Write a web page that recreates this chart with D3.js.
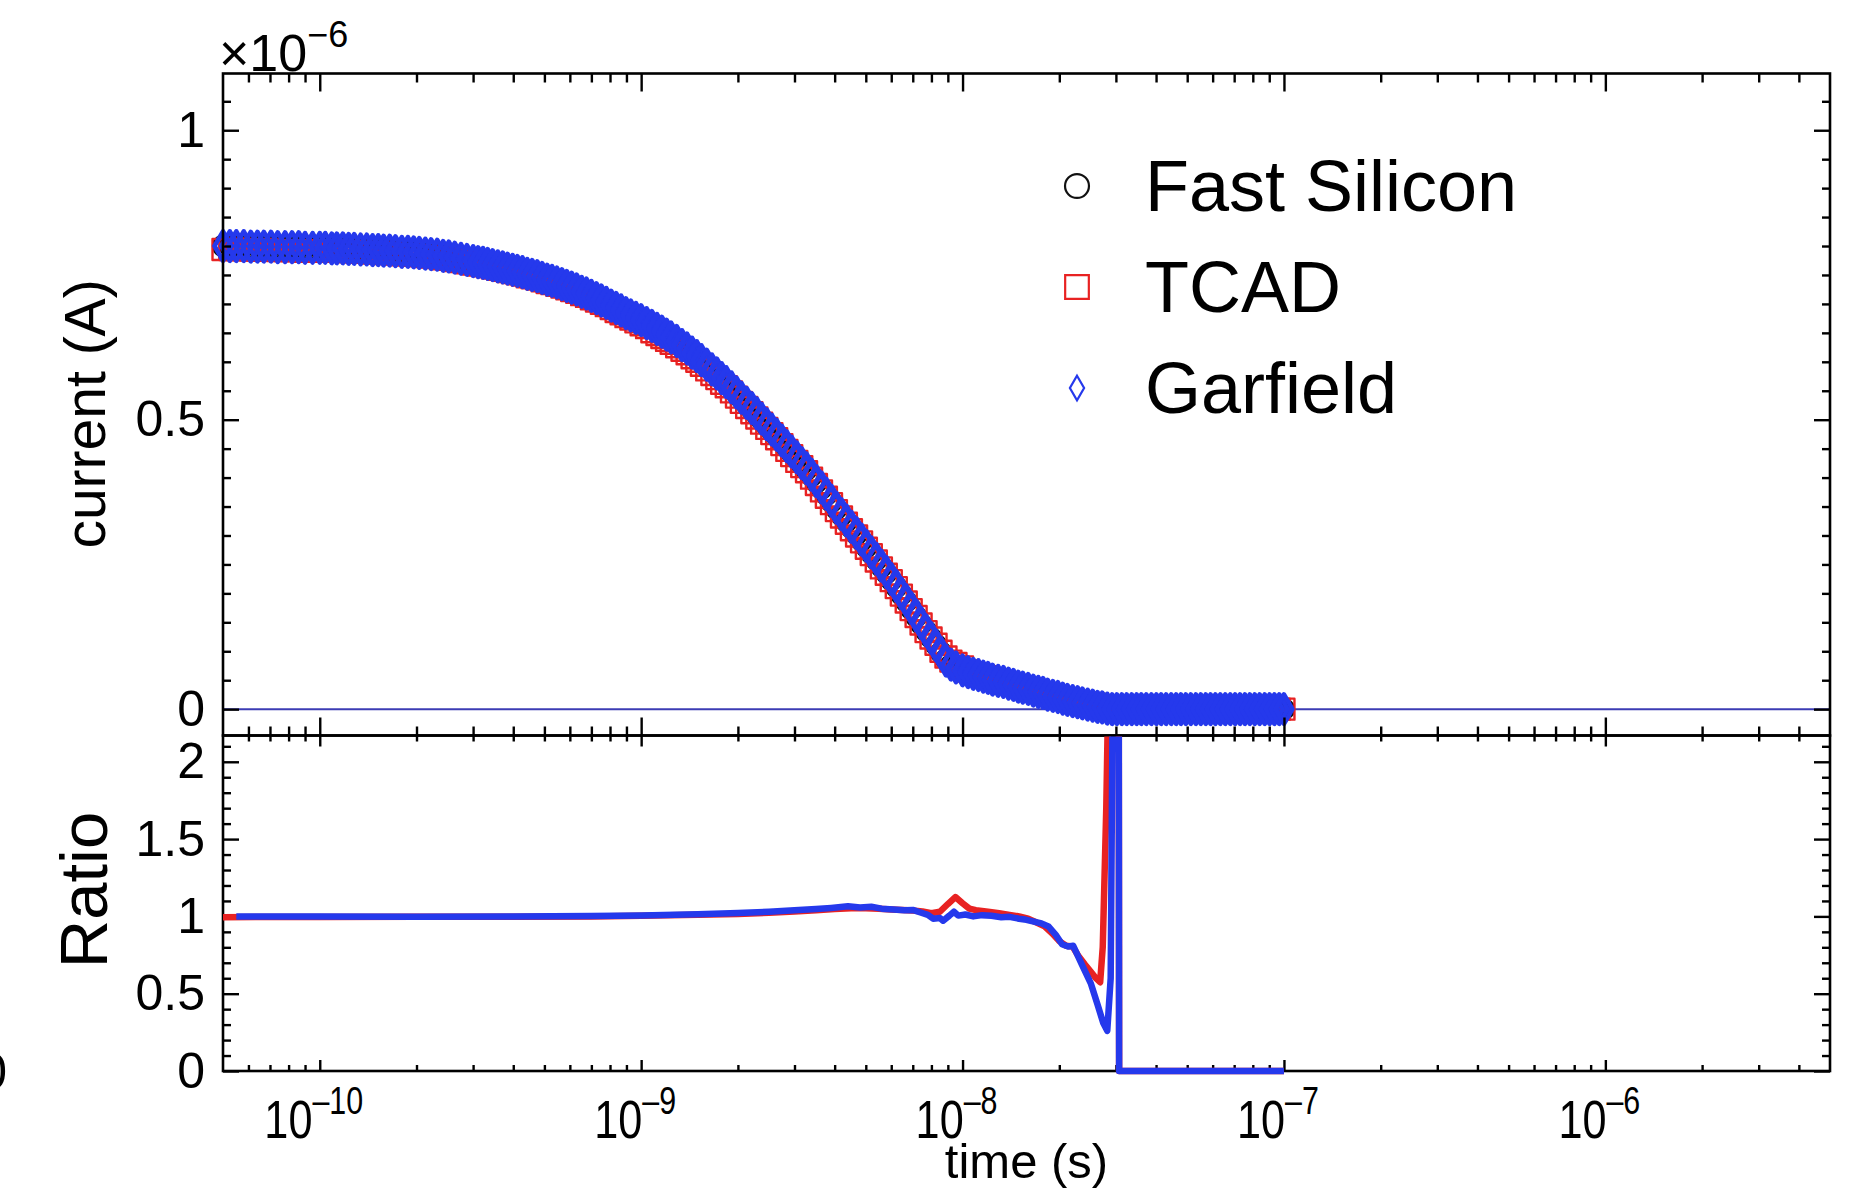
<!DOCTYPE html>
<html>
<head>
<meta charset="utf-8">
<script src="https://cdn.jsdelivr.net/npm/d3@7"></script>
<style>
  html, body { margin: 0; padding: 0; background: #fff; }
  svg { display: block; }
</style>
</head>
<body>
<svg id="chart" width="1860" height="1188"></svg>
<script>
// ---- data -------------------------------------------------------------
// sampling times of the current curves, in ns
const timeNs = [
  0.05,0.0525,0.055,0.058,0.061,0.064,0.067,0.0705,0.074,0.078,0.082,0.086,0.09,0.095,
  0.1,0.104,0.109,0.113,0.118,0.123,0.128,0.134,0.14,0.146,0.152,0.158,0.165,0.172,0.18,0.188,0.196,0.204,0.213,0.222,0.232,0.242,0.252,0.263,0.275,0.287,
  0.3,0.311,0.322,0.333,0.345,0.358,0.371,0.384,0.398,0.412,0.427,0.442,0.458,0.475,0.492,0.51,0.528,0.547,0.567,0.587,0.608,0.63,0.653,0.676,0.7,0.726,0.752,0.779,0.807,0.836,0.866,0.897,0.929,0.963,
  1,1.04,1.08,1.12,1.16,1.2,1.24,1.29,1.34,1.39,1.44,1.49,1.54,1.6,1.66,1.72,1.78,1.84,1.91,1.98,2.05,2.13,2.21,2.29,2.37,2.46,2.55,2.64,2.74,2.84,2.94,3.05,3.16,3.27,3.39,3.51,3.64,3.77,3.91,4.05,4.2,4.35,4.51,4.68,4.85,5.02,5.2,5.39,5.59,5.79,6,6.22,6.45,6.68,6.92,7.17,7.43,7.7,7.98,8.27,8.57,8.88,9.2,9.54,
  10,10.4,10.8,11.2,11.6,12,12.4,12.9,13.4,13.9,14.4,14.9,15.4,16,16.6,17.2,17.8,18.4,19.1,19.8,20.5,21.2,22,22.8,23.6,24.5,25.4,26.3,27.2,28.2,29.2,
  30.2,31.3,32.4,33.6,34.8,36,37.3,38.7,40.1,41.5,43,44.6,46.2,47.8,49.5,51.3,53.2,55.1,57.1,59.1,61.2,63.4,65.7,68.1,70.5,73,75.6,78.3,81.1,84,87.1,90.2,93.4,96.7,100
];

// induced current, in nA
const fastSilicon = [
  800,800,800,800,799,799,799,799,798,798,798,798,797,797,
  797,797,796,796,796,795,795,794,794,793,793,792,792,791,790,790,789,788,787,786,785,783,782,780,778,776,
  774,772,771,769,767,765,763,761,759,757,755,752,750,748,745,742,740,737,734,731,728,725,721,718,714,710,706,702,697,693,689,684,680,676,
  672,667,662,657,652,647,642,636,629,623,616,610,603,595,587,579,571,564,555,546,537,527,518,509,500,490,481,472,462,452,443,433,423,414,403,392,381,370,358,346,335,324,313,302,291,280,269,258,246,235,223,211,198,186,173,160,147,135,123,111,98,86,76,71,
  67,63,61,59,56,54,51,49,47,44,42,40,38,36,33,31,29,27,25,24,22,20,17,16,15,13,12,10,10,4,0,
  0,0,0,0,0,0,0,0,0,0,0,0,0,0,0,0,0,0,0,0,0,0,0,0,0,0,0,0,0,0,0,0,0,0,0
];
const tcad = [
  794,794,794,794,793,793,793,793,792,792,792,792,791,791,
  792,792,791,791,791,790,790,789,789,788,788,787,787,786,785,785,784,783,782,781,780,778,777,775,773,771,
  769,767,766,764,762,760,758,756,754,752,750,747,745,743,740,737,735,732,729,726,723,720,716,713,709,705,701,697,692,687,683,678,674,669,
  664,659,652,647,642,637,632,626,620,614,607,601,594,586,578,571,563,557,548,539,530,521,512,503,494,485,476,467,457,447,438,428,419,410,399,388,377,366,355,343,332,321,310,299,289,278,267,256,244,233,222,210,197,185,172,160,147,134,123,112,100,90,83,79,
  73,66,63,61,58,56,52,50,48,45,42,40,38,35,32,30,27,25,23,21,18,16,14,12,10,9,7,6,6,3,0,
  0,0,0,0,0,0,0,0,0,0,0,0,0,0,0,0,0,0,0,0,0,0,0,0,0,0,0,0,0,0,0,0,0,0,0
];
const garfield = [
  800,800,800,800,799,799,799,799,798,798,798,798,797,797,
  797,797,796,796,796,795,795,794,794,793,793,792,792,791,790,790,789,788,787,786,785,783,782,780,778,776,
  774,772,771,769,767,765,763,761,759,757,755,752,750,748,745,742,740,737,734,731,728,725,721,718,714,710,706,702,697,693,689,684,680,676,
  672,667,662,657,652,647,642,636,629,623,616,610,603,595,587,580,572,565,556,547,538,529,520,511,502,492,483,474,464,454,445,435,425,416,405,394,383,372,360,348,337,326,315,304,293,282,271,260,248,237,225,213,200,188,175,162,149,136,123,110,97,84,77,72,
  67,64,61,59,56,54,51,49,47,44,42,39,37,35,32,30,28,25,23,21,18,16,14,12,10,8,6,4,3,1,0,
  0,0,0,0,0,0,0,0,0,0,0,0,0,0,0,0,0,0,0,0,0,0,0,0,0,0,0,0,0,0,0,0,0,0,0
];

// ratios to Fast Silicon
const ratioTcadTimeNs = [
  0.05,0.1,0.2,0.4,0.7,1,1.5,2,2.5,3,3.5,4,4.5,5,5.5,6,6.5,7,7.5,8,8.5,9,9.5,10,10.5,
  11,12,13,14,15,16,17,18,19,20,21,22,23,24,25,26,26.8,27.3,28,28.8,30.6,30.7,40,60,100
];
const ratioTcad = [
  0.995,0.996,0.997,0.998,1.0,1.004,1.01,1.016,1.024,1.032,1.04,1.048,1.052,1.053,1.05,1.045,1.042,1.038,1.032,1.02,1.03,1.08,1.125,1.085,1.05,
  1.04,1.03,1.02,1.01,1.0,0.985,0.96,0.935,0.89,0.84,0.81,0.805,0.74,0.69,0.645,0.6,0.574,0.8,1.7,3.2,3.2,0,0,0,0
];
const ratioGarfieldTimeNs = [
  0.055,0.1,0.2,0.4,0.7,1,1.5,2,2.5,3,3.5,3.9,4.4,4.8,5.2,5.6,6.1,6.6,7,7.4,7.8,8.1,8.5,8.7,9.1,
  9.4,9.7,10.2,10.8,11.5,12.3,13.2,14,15,15.8,16.8,17.6,18.5,19.5,20.4,21.3,22.1,23.5,25.1,26.3,27.4,28.2,28.9,29.5,30.6,30.7,40,60,100
];
const ratioGarfield = [
  1.0,0.999,0.998,0.999,1.002,1.006,1.014,1.022,1.03,1.04,1.048,1.055,1.065,1.058,1.062,1.05,1.045,1.04,1.042,1.025,1.01,0.985,0.99,0.972,1.005,
  1.03,1.005,1.012,1.0,1.008,1.004,0.995,0.997,0.985,0.978,0.965,0.955,0.935,0.88,0.82,0.805,0.81,0.69,0.563,0.43,0.31,0.26,0.6,3.2,3.2,0,0,0,0
];

// axis labelling
const currentTicks = [0, 0.5, 1];
const currentTickLabels = ["0", "0.5", "1"];
const ratioTicks = [0, 0.5, 1, 1.5, 2];
const ratioTickLabels = ["0", "0.5", "1", "1.5", "2"];
const timeDecades = [-10, -9, -8, -7, -6];
const seriesNames = ["Fast Silicon", "TCAD", "Garfield"];

// ---- layout -------------------------------------------------------------
const FONT = "'Liberation Sans', Arial, Helvetica, sans-serif";
const L = 223, R = 1830, T = 73.5, M = 735.5, B = 1071;
const RED = "#e82222", BLUE = "#2539ec";

const svg = d3.select("#chart").attr("font-family", FONT);
svg.append("rect").attr("width", 1860).attr("height", 1188).attr("fill", "#fff");

const x = d3.scaleLog().domain([5e-11, 5e-6]).range([L, R]);
const yCur = d3.scaleLinear().domain([-0.0455, 1.098]).range([M, T]);
const yRat = d3.scaleLinear().domain([0, 2.17]).range([B, M]);

const sec = ns => ns * 1e-9;
const micro = nA => nA / 1000;

// tick positions
const majorTimes = timeDecades.map(d => Math.pow(10, d));
const minorTimes = [];
for (let d = -11; d <= -6; d++) {
  for (let k = 2; k <= 9; k++) {
    const v = k * Math.pow(10, d);
    if (v > 5.0001e-11 && v < 4.9999e-6) minorTimes.push(v);
  }
}
const curMinor = [];
for (let i = 1; i <= 21; i++) { const v = +(i * 0.05).toFixed(2); if (v % 0.5 !== 0) curMinor.push(v); }
const ratMinor = [];
for (let i = 1; i <= 21; i++) { const v = +(i * 0.1).toFixed(1); if (Math.abs(v * 2 - Math.round(v * 2)) > 1e-6) ratMinor.push(v); }

function ticks(axisFn, scale, values, size, tx, ty) {
  const g = svg.append("g").attr("transform", `translate(${tx},${ty})`)
    .call(axisFn(scale).tickValues(values).tickSize(size).tickSizeOuter(0).tickFormat(""));
  g.select(".domain").remove();
  g.selectAll("line").attr("stroke", "#000").attr("stroke-width", 2.4);
  return g;
}

// ---- upper pad: current ----------------------------------------------------
svg.append("line")
  .attr("x1", L).attr("x2", R)
  .attr("y1", yCur(0)).attr("y2", yCur(0))
  .attr("stroke", "#3c3cb4").attr("stroke-width", 2);

const markerSets = [
  { name: seriesNames[0], values: fastSilicon, type: d3.symbolCircle, size: 314, legendSize: 450, color: "#111", width: 2.4 },
  { name: seriesNames[1], values: tcad, type: d3.symbolSquare, size: 441, legendSize: 560, color: RED, width: 2.4 },
  { name: seriesNames[2], values: garfield, type: d3.symbolDiamond, size: 250, legendSize: 175, color: BLUE, width: 4.6 }
];

markerSets.forEach(s => {
  const rows = timeNs.map((t, i) => ({ t: sec(t), v: micro(s.values[i]) }));
  svg.append("g")
    .selectAll("path")
    .data(rows)
    .join("path")
    .attr("d", d3.symbol().type(s.type).size(s.size))
    .attr("transform", d => `translate(${x(d.t)},${yCur(d.v)})`)
    .attr("fill", "none")
    .attr("stroke", s.color)
    .attr("stroke-width", s.width)
    .attr("stroke-linejoin", "round");
});

// frame and ticks of the upper pad
svg.append("rect").attr("x", L).attr("y", T).attr("width", R - L).attr("height", M - T)
  .attr("fill", "none").attr("stroke", "#000").attr("stroke-width", 2.6);
ticks(d3.axisTop, x, majorTimes, -18, 0, T);
ticks(d3.axisTop, x, minorTimes, -9, 0, T);
ticks(d3.axisBottom, x, majorTimes, -18, 0, M);
ticks(d3.axisBottom, x, minorTimes, -9, 0, M);
ticks(d3.axisLeft, yCur, currentTicks, -16, L, 0);
ticks(d3.axisLeft, yCur, curMinor, -8, L, 0);
ticks(d3.axisRight, yCur, currentTicks, -16, R, 0);
ticks(d3.axisRight, yCur, curMinor, -8, R, 0);

const curLab = svg.append("g").attr("transform", `translate(${L},0)`)
  .call(d3.axisLeft(yCur).tickValues(currentTicks).tickSize(0).tickPadding(18)
    .tickFormat((d, i) => currentTickLabels[i]));
curLab.select(".domain").remove();
curLab.attr("font-family", FONT).attr("font-size", 50);
curLab.selectAll("text").attr("fill", "#000");

// exponent of the current axis
svg.append("text").attr("x", 219).attr("y", 71).attr("font-size", 52).attr("fill", "#000")
  .text("×10").append("tspan").attr("dy", -24).attr("font-size", 36).text("−6");

// ---- lower pad: ratio -----------------------------------------------------
svg.append("rect").attr("x", L).attr("y", M).attr("width", R - L).attr("height", B - M)
  .attr("fill", "none").attr("stroke", "#000").attr("stroke-width", 2.6);
ticks(d3.axisTop, x, majorTimes, -11, 0, M);
ticks(d3.axisTop, x, minorTimes, -6, 0, M);
ticks(d3.axisBottom, x, majorTimes, -11, 0, B);
ticks(d3.axisBottom, x, minorTimes, -6, 0, B);
ticks(d3.axisLeft, yRat, ratioTicks, -16, L, 0);
ticks(d3.axisLeft, yRat, ratMinor, -8, L, 0);
ticks(d3.axisRight, yRat, ratioTicks, -16, R, 0);
ticks(d3.axisRight, yRat, ratMinor, -8, R, 0);

const ratLab = svg.append("g").attr("transform", `translate(${L},0)`)
  .call(d3.axisLeft(yRat).tickValues(ratioTicks).tickSize(0).tickPadding(18)
    .tickFormat((d, i) => ratioTickLabels[i]));
ratLab.select(".domain").remove();
ratLab.attr("font-family", FONT).attr("font-size", 50);
ratLab.selectAll("text").attr("fill", "#000");

svg.append("clipPath").attr("id", "ratio-clip")
  .append("rect").attr("x", L).attr("y", M + 1).attr("width", R - L).attr("height", B - M + 4);

const ratioLine = d3.line().x(d => x(d.t)).y(d => yRat(d.v));
[
  { times: ratioTcadTimeNs, values: ratioTcad, color: RED },
  { times: ratioGarfieldTimeNs, values: ratioGarfield, color: BLUE }
].forEach(s => {
  const rows = s.times.map((t, i) => ({ t: sec(t), v: s.values[i] }));
  svg.append("path")
    .datum(rows)
    .attr("clip-path", "url(#ratio-clip)")
    .attr("d", ratioLine)
    .attr("fill", "none")
    .attr("stroke", s.color)
    .attr("stroke-width", 6.5)
    .attr("stroke-linejoin", "round");
});

// time axis labels: 10^n, in a narrow face
svg.append("g").selectAll("text")
  .data(timeDecades)
  .join("text")
  .attr("transform", d => `translate(${x(Math.pow(10, d)) - 6},1138) scale(0.8,1)`)
  .attr("text-anchor", "middle")
  .attr("font-size", 54)
  .attr("fill", "#000")
  .each(function (d) {
    const t = d3.select(this);
    t.append("tspan").text("10");
    t.append("tspan").attr("dy", -24).attr("font-size", 38).text("–" + Math.abs(d));
  });

// stray label fragment at the left border
svg.append("text").attr("x", 7).attr("y", 1089).attr("text-anchor", "end")
  .attr("font-size", 50).attr("fill", "#000").text("0");

// ---- titles ----------------------------------------------------------------
svg.append("text")
  .attr("transform", `translate(105,414) rotate(-90)`)
  .attr("text-anchor", "middle").attr("font-size", 57).attr("fill", "#000")
  .text("current (A)");
svg.append("text")
  .attr("transform", `translate(107,890) rotate(-90)`)
  .attr("text-anchor", "middle").attr("font-size", 67).attr("fill", "#000")
  .text("Ratio");
svg.append("text")
  .attr("x", (L + R) / 2).attr("y", 1178)
  .attr("text-anchor", "middle").attr("font-size", 49).attr("fill", "#000")
  .text("time (s)");

// ---- legend ------------------------------------------------------------------
const legend = svg.append("g");
const rowsY = [186, 287, 388];
markerSets.forEach((s, i) => {
  legend.append("path")
    .attr("d", d3.symbol().type(s.type).size(s.legendSize)())
    .attr("transform", `translate(1077,${rowsY[i]})`)
    .attr("fill", "none").attr("stroke", s.color).attr("stroke-width", 2.2);
  legend.append("text")
    .attr("x", 1145).attr("y", rowsY[i] + 25)
    .attr("font-size", 72).attr("fill", "#000")
    .text(s.name);
});
</script>
</body>
</html>
